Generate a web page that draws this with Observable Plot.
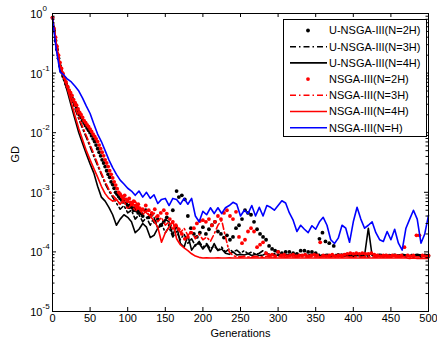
<!DOCTYPE html>
<html><head><meta charset="utf-8">
<script src="https://cdn.jsdelivr.net/npm/d3@7"></script>
<script src="https://cdn.jsdelivr.net/npm/@observablehq/plot@0.6"></script>
<style>
body{margin:0;background:#fff;}
#chart{position:relative;width:437px;height:348px;font-family:"Liberation Sans",Arial,sans-serif;}
#legend{position:absolute;left:283px;top:19px;}
</style></head><body><div id="chart"></div>
<script>
// ---- data (GD values) ----
const generations = [0,5,10,15,20,25,30,35,40,45,50,55,60,65,70,75,80,85,90,95,100,105,110,115,120,125,130,135,140,145,150,155,160,165,170,175,180,185,190,195,200,205,210,215,220,225,230,235,240,245,250,255,260,265,270,275,280,285,290,295,300,305,310,315,320,325,330,335,340,345,350,355,360,365,370,375,380,385,390,395,400,405,410,415,420,425,430,435,440,445,450,455,460,465,470,475,480,485,490,495,500];

const gdNsgaH = [0.85,0.25,0.105,0.093,0.079,0.071,0.06,0.05,0.038,0.028,
 0.021,0.014,0.0095,0.0071,0.005,0.0035,0.0026,0.002,0.0016,0.00138,
 0.00117,0.00105,8.9e-4,1.05e-3,8.3e-4,1.0e-3,7.9e-4,9.1e-4,6.5e-4,7.6e-4,
 7.9e-4,6.0e-4,7.9e-4,7.6e-4,6.3e-4,7.9e-4,6.3e-4,7.9e-4,4.0e-4,3.2e-4,
 4.8e-4,4.2e-4,5.5e-4,4.4e-4,5.5e-4,4.4e-4,5.5e-4,6.0e-4,6.8e-4,6.3e-4,
 4.0e-4,5.0e-4,4.4e-4,6.0e-4,4.0e-4,5.6e-4,4.0e-4,6.0e-4,5.6e-4,5.0e-4,
 6.0e-4,7.2e-4,6.6e-4,4.5e-4,3.4e-4,2.2e-4,2.8e-4,2.4e-4,2.1e-4,2.75e-4,
 2.4e-4,3.2e-4,3.8e-4,2.8e-4,1.6e-4,1.38e-4,1.7e-4,2.8e-4,2.5e-4,1.45e-4,
 3.2e-4,5.6e-4,3.55e-4,2.5e-4,2.8e-4,3.2e-4,2.1e-4,1.6e-4,1.5e-4,2.2e-4,
 1.6e-4,2.4e-4,1.4e-4,1.07e-4,2.5e-4,3.55e-4,5.0e-4,3.55e-4,1.4e-4,2.0e-4,
 4.1e-4];

const gdU4H = [0.85,0.28,0.126,0.079,0.048,0.028,0.0166,0.01,0.0066,0.0044,
 0.003,0.0021,0.00126,8.3e-4,7.1e-4,5.6e-4,4.2e-4,2.8e-4,3.55e-4,4.2e-4,
 3.8e-4,3.2e-4,2.1e-4,2.4e-4,3.0e-4,2.6e-4,1.74e-4,1.9e-4,2.5e-4,2.8e-4,
 3.55e-4,3.2e-4,1.9e-4,2.8e-4,1.4e-4,1.2e-4,1.9e-4,1.07e-4,1.32e-4,1.4e-4,
 1.12e-4,1.32e-4,1.0e-4,1.38e-4,1.05e-4,1.12e-4,9.5e-5,9.1e-5,1.0e-4,8.9e-5,
 9.1e-5,8.9e-5,9.3e-5,8.7e-5,9.1e-5,8.7e-5,8.9e-5,9.5e-5,8.7e-5,8.9e-5,
 8.7e-5,9.1e-5,8.7e-5,8.9e-5,8.7e-5,8.7e-5,8.9e-5,8.7e-5,8.7e-5,8.9e-5,
 8.7e-5,8.7e-5,8.9e-5,8.7e-5,8.5e-5,8.7e-5,8.5e-5,8.7e-5,8.5e-5,8.7e-5,
 8.5e-5,8.7e-5,8.5e-5,8.7e-5,2.5e-4,8.7e-5,8.5e-5,8.7e-5,8.5e-5,8.7e-5,
 8.5e-5,8.7e-5,8.5e-5,8.7e-5,8.5e-5,8.7e-5,8.5e-5,8.7e-5,8.5e-5,8.7e-5,
 8.5e-5];

const gdU3H = [0.85,0.32,0.13,0.083,0.056,0.038,0.025,0.017,0.0117,0.0083,
 0.0058,0.004,0.0028,0.002,0.0014,0.00105,8.3e-4,6.6e-4,5.2e-4,6.0e-4,
 4.5e-4,5.0e-4,3.55e-4,4.2e-4,3.2e-4,3.8e-4,2.8e-4,3.8e-4,2.5e-4,3.0e-4,
 2.1e-4,2.6e-4,1.78e-4,2.2e-4,1.6e-4,2.0e-4,1.4e-4,1.66e-4,1.26e-4,1.5e-4,
 1.2e-4,1.38e-4,1.12e-4,1.26e-4,1.07e-4,1.2e-4,1.0e-4,1.12e-4,1.0e-4,1.07e-4,
 9.5e-5,1.05e-4,9.3e-5,1.0e-4,9.1e-5,9.5e-5,1.05e-4,9.5e-5,8.9e-5,9.3e-5,
 8.9e-5,9.1e-5,8.9e-5,9.1e-5,8.9e-5,9.1e-5,8.9e-5,9.1e-5,8.9e-5,9.1e-5,
 8.9e-5,9.1e-5,8.9e-5,9.1e-5,8.9e-5,9.1e-5,8.9e-5,9.1e-5,8.9e-5,9.1e-5,
 8.9e-5,9.1e-5,8.9e-5,9.1e-5,8.9e-5,9.1e-5,8.9e-5,9.1e-5,8.9e-5,9.1e-5,
 8.9e-5,9.1e-5,8.9e-5,9.1e-5,8.9e-5,9.1e-5,8.9e-5,9.1e-5,8.9e-5,9.1e-5,
 8.9e-5];

const gdN4H = [0.85,0.32,0.14,0.089,0.054,0.032,0.019,0.0117,0.0076,0.005,
 0.0035,0.0025,0.0018,0.00126,9.5e-4,7.9e-4,7.1e-4,7.6e-4,6.3e-4,7.9e-4,
 7.2e-4,6.3e-4,7.1e-4,5.6e-4,5.0e-4,4.5e-4,4.0e-4,3.3e-4,2.6e-4,1.45e-4,
 2.1e-4,2.6e-4,3.3e-4,1.66e-4,1.32e-4,1.17e-4,1.05e-4,9.3e-5,8.5e-5,8.1e-5,
 7.9e-5,8.0e-5,7.9e-5,7.9e-5,8.0e-5,7.9e-5,7.9e-5,8.0e-5,7.9e-5,7.9e-5,
 8.0e-5,7.9e-5,7.9e-5,8.0e-5,7.9e-5,7.9e-5,8.0e-5,7.9e-5,7.9e-5,8.0e-5,
 7.9e-5,7.9e-5,8.0e-5,7.9e-5,7.9e-5,8.0e-5,7.9e-5,7.9e-5,8.0e-5,7.9e-5,
 7.9e-5,8.0e-5,7.9e-5,7.9e-5,8.0e-5,7.9e-5,7.9e-5,8.0e-5,7.9e-5,7.9e-5,
 8.0e-5,7.9e-5,7.9e-5,8.0e-5,7.9e-5,7.9e-5,8.0e-5,7.9e-5,7.9e-5,8.0e-5,
 7.9e-5,7.9e-5,8.0e-5,7.9e-5,7.9e-5,7.8e-5,7.9e-5,7.8e-5,7.8e-5,7.8e-5,
 7.8e-5];

const gdN3H = [0.85,0.33,0.14,0.089,0.06,0.04,0.027,0.018,0.0126,0.0089,
 0.0063,0.0044,0.003,0.0021,0.0015,0.00112,8.9e-4,7.6e-4,6.3e-4,7.1e-4,
 5.2e-4,6.3e-4,4.8e-4,5.6e-4,4.2e-4,5.0e-4,3.8e-4,4.5e-4,3.2e-4,3.8e-4,
 2.8e-4,3.2e-4,2.4e-4,2.8e-4,2.1e-4,2.5e-4,1.9e-4,2.2e-4,1.66e-4,2.0e-4,
 1.6e-4,1.78e-4,1.5e-4,2.0e-4,2.8e-4,3.4e-4,1.78e-4,1.0e-4,8.7e-5,8.3e-5,
 8.3e-5,8.4e-5,8.2e-5,8.3e-5,8.4e-5,8.2e-5,8.3e-5,8.4e-5,8.2e-5,8.3e-5,
 8.4e-5,8.2e-5,8.3e-5,8.4e-5,8.2e-5,8.3e-5,8.4e-5,8.2e-5,8.3e-5,8.4e-5,
 8.2e-5,8.3e-5,8.4e-5,8.2e-5,8.3e-5,8.4e-5,8.2e-5,8.3e-5,8.4e-5,8.2e-5,
 8.3e-5,8.4e-5,8.2e-5,8.3e-5,8.4e-5,8.2e-5,8.3e-5,8.4e-5,8.2e-5,8.3e-5,
 8.4e-5,8.2e-5,8.3e-5,8.4e-5,8.2e-5,8.3e-5,8.4e-5,8.2e-5,8.3e-5,8.4e-5,
 8.3e-5];

// marker series (U-NSGA-III N=2H)
const gensU2H = [0,2,4,6,8,10,12,14,16,18,20,22,24,26,28,30,32,34,36,38,40,42,44,46,48,50,52,54,56,58,60,62,64,66,68,70,72,74,76,78,80,82,84,86,88,90,92,94,96,98,100,102,104,106,108,110,112,114,116,118,120,
 124,128,132,136,140,144,148,152,156,160,165,
 168,172,176,180,184,188,192,196,200,204,208,212,216,220,224,228,232,236,240,244,248,252,256,260,264,268,272,276,280,284,288,292,296,
 300,305,310,315,320,325,330,335,340,345,350,355,359,363,368,374,380,385,390,395,400,
 410,420,430,440,450,460,470,480,490,500];
const gdU2H = [0.85,0.52,0.35,0.25,0.178,0.132,0.105,0.089,0.078,0.066,0.058,0.05,0.044,0.038,0.033,0.03,0.026,0.023,0.02,0.018,0.016,0.0145,0.0132,0.012,0.011,0.01,0.0089,0.0079,0.0071,0.0062,0.0054,0.0047,0.0041,0.0035,0.0031,0.0027,0.0023,0.002,0.00178,0.0015,0.00135,0.00117,0.001,9.3e-4,8.5e-4,7.9e-4,7.4e-4,6.9e-4,7.6e-4,6.6e-4,6.0e-4,5.6e-4,6.2e-4,5.5e-4,5.0e-4,5.4e-4,4.9e-4,4.5e-4,4.9e-4,4.4e-4,4.0e-4,
 5.0e-4,3.8e-4,4.2e-4,3.2e-4,3.55e-4,2.8e-4,3.2e-4,3.8e-4,2.8e-4,5.0e-4,1.05e-3,
 8.3e-4,8.9e-4,7.6e-4,4.0e-4,2.5e-4,2.0e-4,1.78e-4,2.1e-4,2.6e-4,2.0e-4,2.4e-4,2.8e-4,3.2e-4,2.2e-4,2.0e-4,1.74e-4,1.9e-4,1.6e-4,1.78e-4,2.5e-4,2.8e-4,3.55e-4,5.0e-4,4.5e-4,4.2e-4,3.2e-4,2.4e-4,2.0e-4,1.78e-4,1.6e-4,1.26e-4,1.12e-4,1.05e-4,
 1.0e-4,9.5e-5,1.0e-4,1.0e-4,9.5e-5,9.3e-5,1.05e-4,1.05e-4,1.0e-4,1.0e-4,9.5e-5,1.66e-4,2.1e-4,1.5e-4,1.4e-4,1.26e-4,8.9e-5,8.7e-5,8.9e-5,8.7e-5,8.9e-5,
 8.5e-5,8.5e-5,8.5e-5,8.5e-5,8.5e-5,8.5e-5,8.5e-5,8.5e-5,8.5e-5,8.5e-5];

// marker series (NSGA-III N=2H)
const gensN2H = [0,2,4,6,8,10,12,14,16,18,20,22,24,26,28,30,32,34,36,38,40,42,44,46,48,50,52,54,56,58,60,62,64,66,68,70,72,74,76,78,80,82,84,86,88,90,92,94,96,98,100,102,104,106,108,110,112,114,116,118,120,
 124,128,132,136,140,144,148,152,156,160,164,168,172,176,180,184,188,192,196,200,204,208,212,216,220,224,228,232,236,240,244,248,252,256,260,264,268,272,276,280,284,
 288,292,296,300,304,308,312,316,320,324,328,332,336,340,344,348,352,356,360,364,368,372,376,380,384,388,392,396,400,404,408,412,416,420,424,428,432,436,440,444,448,452,456,460,464,468,472,476,480,484,488,492,496,500];
const gdN2H = [0.85,0.56,0.4,0.28,0.2,0.15,0.12,0.098,0.083,0.071,0.06,0.052,0.047,0.042,0.036,0.032,0.029,0.025,0.022,0.02,0.018,0.016,0.0148,0.0135,0.0126,0.0115,0.0105,0.0095,0.0087,0.0079,0.0071,0.0062,0.0054,0.0047,0.0041,0.0035,0.0031,0.0027,0.0023,0.002,0.00174,0.0015,0.00132,0.00115,0.001,9.3e-4,8.5e-4,7.9e-4,8.9e-4,7.6e-4,7.1e-4,7.9e-4,6.8e-4,6.3e-4,7.1e-4,6.0e-4,5.6e-4,6.3e-4,5.4e-4,5.0e-4,5.2e-4,
 6.0e-4,5.0e-4,4.5e-4,5.2e-4,4.0e-4,4.5e-4,5.0e-4,4.4e-4,3.55e-4,3.2e-4,2.8e-4,2.4e-4,2.0e-4,1.66e-4,1.78e-4,2.1e-4,2.5e-4,3.0e-4,3.3e-4,3.4e-4,3.2e-4,3.55e-4,2.8e-4,3.2e-4,4.0e-4,3.55e-4,4.5e-4,5.0e-4,4.0e-4,3.55e-4,4.7e-4,1.78e-4,1.4e-4,1.6e-4,2.2e-4,2.5e-4,2.2e-4,1.2e-4,1.32e-4,1.45e-4,9.5e-5,
 8.7e-5,9.0e-5,8.5e-5,1.0e-4,8.7e-5,9.0e-5,8.5e-5,8.7e-5,9.0e-5,8.5e-5,8.7e-5,8.7e-5,9.0e-5,8.5e-5,8.7e-5,9.0e-5,8.7e-5,1.45e-4,8.7e-5,8.5e-5,8.7e-5,9.0e-5,8.5e-5,8.7e-5,8.7e-5,9.0e-5,9.3e-5,9.5e-5,9.3e-5,9.5e-5,9.3e-5,9.5e-5,9.3e-5,9.3e-5,9.5e-5,9.0e-5,8.7e-5,8.5e-5,8.7e-5,8.7e-5,8.5e-5,8.7e-5,8.7e-5,8.5e-5,8.7e-5,1.2e-4,8.7e-5,8.5e-5,8.7e-5,1.9e-4,1.9e-4,8.7e-5,8.5e-5,8.7e-5];

const xTicks = [0,50,100,150,200,250,300,350,400,450,500];
const xTickLabels = ["0","50","100","150","200","250","300","350","400","450","500"];
const yTicks = [1,0.1,0.01,0.001,1e-4,1e-5];
const yTickExponents = ["0","-1","-2","-3","-4","-5"];

const legendNames = ["U-NSGA-III(N=2H)","U-NSGA-III(N=3H)","U-NSGA-III(N=4H)","NSGA-III(N=2H)","NSGA-III(N=3H)","NSGA-III(N=4H)","NSGA-III(N=H)"];
const legendColors = ["#000000","#000000","#000000","#ff0000","#ff0000","#ff0000","#0000ff"];
const legendStyles = ["dot","dashdot","solid","dot","dashdot","solid","solid"];

// ---- build ----
const FONT = '"Liberation Sans", Arial, Helvetica, sans-serif';
const DASHDOT = "6,3,1.5,3";
const LW = 1.6;
const lineRows = vals => generations.map((g, i) => ({gen: g, gd: vals[i]}));
const dotRows = (gens, vals) => gens.map((g, i) => ({gen: g, gd: vals[i]}));
const yMinor = d3.scaleLog().domain([1e-5, 1]).ticks().filter(t => !yTicks.some(m => Math.abs(Math.log10(t) - Math.log10(m)) < 1e-6));

const FW = 437 - 52 - 9, FH = 348 - 13 - 37;

const chart = Plot.plot({
  width: 437, height: 348,
  marginLeft: 52, marginRight: 9, marginTop: 13, marginBottom: 37,
  style: {fontFamily: FONT, fontSize: "11px", background: "white", color: "black", overflow: "visible"},
  x: {domain: [0, 500], axis: null},
  y: {type: "log", domain: [1e-5, 1], axis: null},
  marks: [
    Plot.dot(dotRows(gensU2H, gdU2H), {x: "gen", y: "gd", r: 1.9, fill: "#000000", stroke: null}),
    Plot.line(lineRows(gdU3H), {x: "gen", y: "gd", stroke: "#000000", strokeWidth: LW, strokeDasharray: DASHDOT}),
    Plot.line(lineRows(gdU4H), {x: "gen", y: "gd", stroke: "#000000", strokeWidth: LW}),
    Plot.dot(dotRows(gensN2H, gdN2H), {x: "gen", y: "gd", r: 1.9, fill: "#ff0000", stroke: null}),
    Plot.line(lineRows(gdN3H), {x: "gen", y: "gd", stroke: "#ff0000", strokeWidth: LW, strokeDasharray: DASHDOT}),
    Plot.line(lineRows(gdN4H), {x: "gen", y: "gd", stroke: "#ff0000", strokeWidth: LW}),
    Plot.line(lineRows(gdNsgaH), {x: "gen", y: "gd", stroke: "#0000ff", strokeWidth: LW}),
    Plot.frame({stroke: "#000000", strokeWidth: 1}),
    // inward ticks
    Plot.tickX(xTicks, {x: d => d, stroke: "#000", insetTop: FH - 4}),
    Plot.tickX(xTicks, {x: d => d, stroke: "#000", insetBottom: FH - 4}),
    Plot.tickY(yTicks, {y: d => d, stroke: "#000", insetRight: FW - 4}),
    Plot.tickY(yTicks, {y: d => d, stroke: "#000", insetLeft: FW - 4}),
    Plot.tickY(yMinor, {y: d => d, stroke: "#000", insetRight: FW - 2.5}),
    Plot.tickY(yMinor, {y: d => d, stroke: "#000", insetLeft: FW - 2.5}),
    // tick labels
    Plot.text(xTicks, {x: d => d, text: (d, i) => xTickLabels[i], frameAnchor: "bottom", dy: 10, fontSize: 11, fill: "#000"}),
    Plot.text(yTicks, {y: d => d, text: () => "10", frameAnchor: "left", textAnchor: "end", dx: -10, dy: 1, fontSize: 11, fill: "#000"}),
    Plot.text(yTicks, {y: d => d, text: (d, i) => yTickExponents[i], frameAnchor: "left", textAnchor: "start", dx: -10, dy: -5, fontSize: 8, fill: "#000"}),
    // axis titles
    Plot.text(["Generations"], {text: d => d, frameAnchor: "bottom", dy: 25, fontSize: 11, fill: "#000"}),
    Plot.text(["GD"], {text: d => d, frameAnchor: "left", dx: -37, rotate: -90, fontSize: 11, fill: "#000"})
  ]
});

const host = document.getElementById("chart");
host.appendChild(chart);

// legend box (inside the axes, top right)
const lg = d3.select(host).append("svg").attr("id", "legend")
  .attr("width", 144).attr("height", 118)
  .style("font-family", FONT).style("font-size", "11px");
lg.append("rect").attr("x", 0.5).attr("y", 0.5).attr("width", 143).attr("height", 117)
  .attr("fill", "white").attr("stroke", "#000");
legendNames.forEach((name, i) => {
  const cy = 11.5 + i * 16.2;
  const c = legendColors[i], s = legendStyles[i];
  if (s === "dot") {
    lg.append("circle").attr("cx", 25).attr("cy", cy).attr("r", 1.9).attr("fill", c);
  } else {
    lg.append("line").attr("x1", 7).attr("x2", 44).attr("y1", cy).attr("y2", cy)
      .attr("stroke", c).attr("stroke-width", 1.6)
      .attr("stroke-dasharray", s === "dashdot" ? DASHDOT : null);
  }
  lg.append("text").attr("x", 46).attr("y", cy).attr("dy", "0.35em").attr("fill", "#000").text(name);
});
</script>
</body></html>
